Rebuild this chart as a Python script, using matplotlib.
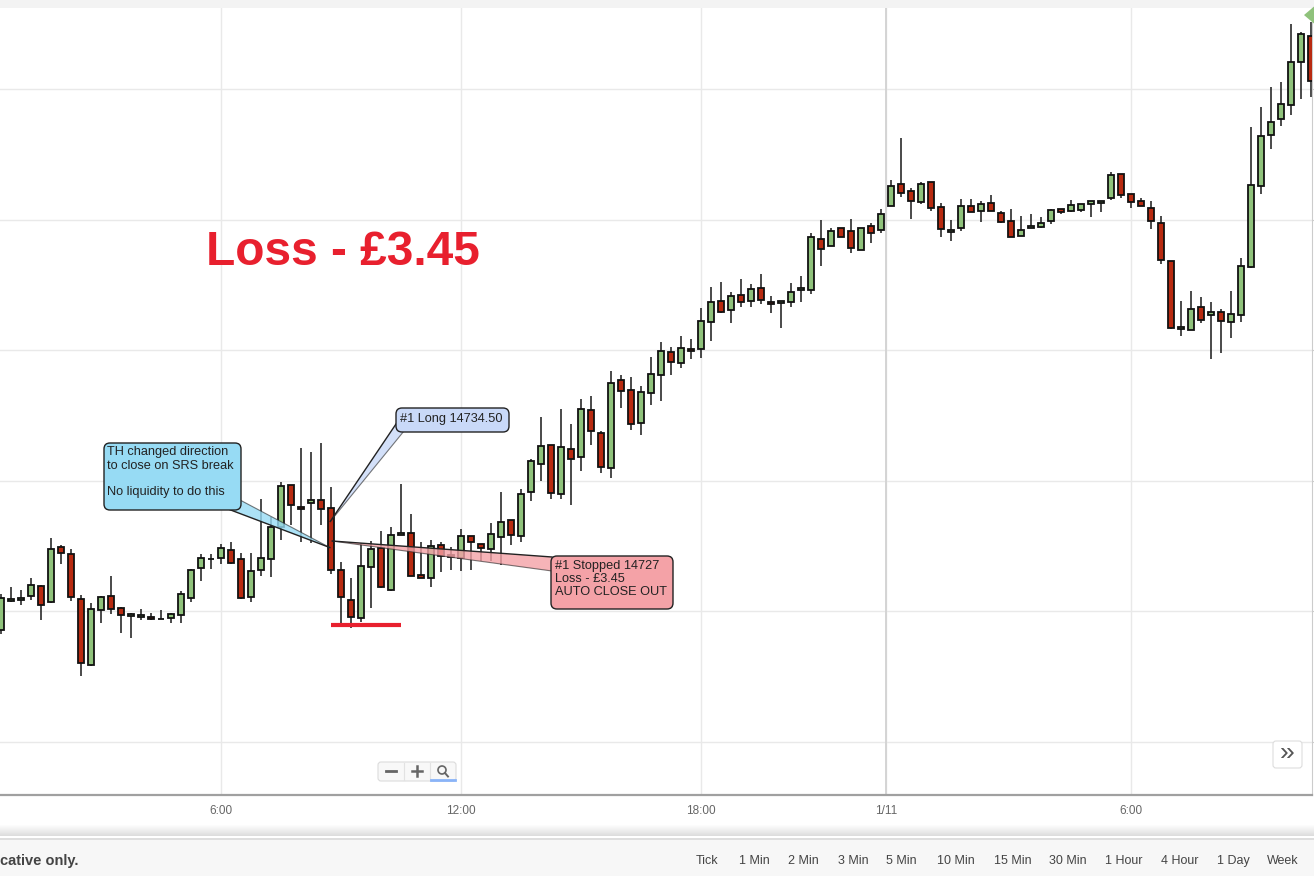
import numpy as np
import matplotlib
matplotlib.use("Agg")
import matplotlib.pyplot as plt
from matplotlib.patches import FancyBboxPatch, Polygon, Rectangle, Circle

plt.rcParams["font.family"] = ["Liberation Sans", "DejaVu Sans"]

# 15 minute candles
opens = [14692.9, 14704.0, 14704.4, 14705.9, 14709.8, 14703.6, 14724.7, 14722.0, 14704.8, 14679.5,
         14700.6, 14705.9, 14701.3, 14698.3, 14697.9, 14697.9, 14697.1, 14697.5, 14698.7, 14705.2,
         14716.7, 14720.1, 14720.5, 14723.6, 14720.1, 14705.6, 14715.9, 14720.1, 14732.4, 14748.5,
         14740.0, 14741.6, 14742.7, 14739.7, 14715.9, 14704.4, 14697.5, 14717.1, 14724.3, 14708.2,
         14729.3, 14730.1, 14714.0, 14712.8, 14725.5, 14721.7, 14720.5, 14728.9, 14725.9, 14724.0,
         14728.5, 14735.1, 14728.9, 14745.8, 14756.5, 14763.8, 14745.0, 14762.3, 14759.2, 14777.2,
         14768.4, 14755.0, 14788.7, 14784.9, 14772.2, 14783.7, 14790.6, 14799.4, 14795.2, 14800.6,
         14800.6, 14810.9, 14819.0, 14815.5, 14821.3, 14819.0, 14823.9, 14818.6, 14818.2, 14818.6,
         14823.2, 14823.2, 14842.7, 14840.0, 14846.9, 14845.8, 14838.5, 14847.7, 14846.2, 14855.4,
         14863.8, 14861.1, 14856.9, 14864.5, 14855.0, 14845.4, 14846.9, 14855.4, 14853.4, 14856.5,
         14852.7, 14849.6, 14843.9, 14846.9, 14847.3, 14849.6, 14854.2, 14853.4, 14853.8, 14856.1,
         14856.5, 14858.4, 14867.6, 14860.0, 14857.3, 14854.6, 14848.8, 14834.3, 14808.2, 14807.8,
         14816.7, 14813.6, 14814.7, 14810.9, 14813.6, 14832.0, 14863.0, 14882.6, 14888.7, 14894.0,
         14910.5, 14920.5]
highs = [14706.7, 14709.4, 14708.2, 14712.8, 14710.2, 14728.2, 14725.5, 14724.0, 14706.3, 14703.3,
         14705.9, 14713.6, 14701.7, 14699.4, 14701.0, 14699.4, 14700.6, 14699.4, 14707.9, 14716.3,
         14722.0, 14722.0, 14725.9, 14726.6, 14722.4, 14722.4, 14743.1, 14736.2, 14749.6, 14748.5,
         14762.6, 14761.1, 14764.6, 14747.7, 14719.0, 14712.8, 14726.2, 14727.0, 14730.8, 14732.4,
         14748.9, 14737.4, 14726.6, 14727.4, 14726.6, 14724.7, 14731.6, 14728.9, 14725.9, 14733.9,
         14745.8, 14735.1, 14746.9, 14758.4, 14774.5, 14763.8, 14777.6, 14771.8, 14781.4, 14782.6,
         14769.2, 14792.1, 14790.6, 14789.8, 14786.4, 14797.5, 14803.3, 14801.3, 14805.6, 14804.4,
         14816.3, 14824.3, 14826.2, 14822.4, 14827.4, 14825.5, 14829.3, 14820.9, 14819.0, 14825.9,
         14828.5, 14845.0, 14850.0, 14846.9, 14846.9, 14850.4, 14846.9, 14848.8, 14854.2, 14865.3,
         14881.4, 14862.2, 14864.5, 14864.5, 14856.5, 14850.0, 14858.0, 14858.0, 14857.3, 14859.6,
         14853.4, 14854.2, 14851.5, 14852.3, 14851.1, 14854.2, 14854.2, 14857.7, 14856.1, 14857.3,
         14857.3, 14868.4, 14867.6, 14860.0, 14858.4, 14857.3, 14851.5, 14834.3, 14819.0, 14822.8,
         14820.5, 14818.6, 14815.9, 14822.8, 14835.4, 14885.6, 14893.3, 14900.9, 14902.9, 14925.1,
         14922.0, 14925.8]
lows = [14691.4, 14703.6, 14702.5, 14704.4, 14696.8, 14703.3, 14718.2, 14704.0, 14675.3, 14679.1,
        14695.6, 14699.0, 14691.8, 14689.9, 14696.8, 14696.8, 14697.1, 14695.6, 14695.6, 14703.6,
        14711.7, 14716.3, 14718.2, 14718.2, 14704.8, 14703.6, 14713.6, 14713.2, 14727.4, 14733.1,
        14726.6, 14726.2, 14733.1, 14714.4, 14695.6, 14693.7, 14696.0, 14701.3, 14709.0, 14707.9,
        14729.3, 14713.6, 14712.8, 14709.4, 14715.1, 14715.9, 14715.5, 14715.9, 14719.4, 14719.4,
        14717.8, 14725.5, 14726.6, 14742.3, 14750.0, 14743.1, 14743.1, 14740.8, 14753.8, 14763.8,
        14753.1, 14751.1, 14778.0, 14769.5, 14767.6, 14779.1, 14780.6, 14790.6, 14793.3, 14796.7,
        14797.1, 14803.6, 14814.4, 14810.5, 14816.7, 14816.7, 14817.8, 14814.4, 14808.6, 14816.7,
        14818.6, 14821.6, 14832.4, 14840.0, 14843.5, 14837.3, 14838.5, 14841.2, 14845.0, 14855.4,
        14858.8, 14850.4, 14856.1, 14853.4, 14843.5, 14841.9, 14845.8, 14853.1, 14849.2, 14853.4,
        14848.8, 14843.5, 14843.9, 14846.9, 14846.9, 14848.5, 14852.3, 14853.1, 14853.1, 14851.1,
        14853.1, 14857.7, 14858.4, 14854.6, 14855.4, 14846.5, 14833.1, 14808.2, 14805.6, 14807.8,
        14810.5, 14796.7, 14799.0, 14804.8, 14810.9, 14831.6, 14860.0, 14877.2, 14886.0, 14890.2,
        14896.3, 14897.1]
closes = [14705.2, 14704.8, 14705.2, 14710.2, 14702.5, 14724.0, 14722.4, 14705.6, 14680.3, 14701.0,
          14705.6, 14701.0, 14698.7, 14699.0, 14698.7, 14697.1, 14697.1, 14699.0, 14706.7, 14715.9,
          14720.5, 14720.1, 14724.3, 14718.6, 14705.2, 14715.5, 14720.5, 14732.4, 14748.1, 14740.8,
          14739.3, 14742.7, 14739.3, 14715.9, 14705.6, 14697.9, 14717.4, 14724.0, 14709.4, 14729.3,
          14730.1, 14713.6, 14712.8, 14725.1, 14721.3, 14720.9, 14728.9, 14726.6, 14724.3, 14729.7,
          14734.3, 14729.3, 14745.0, 14757.7, 14763.4, 14745.4, 14763.0, 14758.4, 14777.6, 14769.2,
          14755.4, 14787.5, 14784.5, 14771.8, 14784.1, 14791.0, 14799.8, 14795.6, 14801.0, 14799.8,
          14811.3, 14818.6, 14814.7, 14820.9, 14818.6, 14823.6, 14819.3, 14817.8, 14819.0, 14822.4,
          14823.9, 14843.5, 14838.9, 14845.8, 14843.5, 14839.3, 14846.9, 14845.0, 14852.3, 14863.0,
          14860.3, 14857.3, 14863.8, 14854.6, 14846.5, 14846.2, 14855.4, 14853.1, 14856.1, 14853.4,
          14849.2, 14843.5, 14846.2, 14847.7, 14848.8, 14853.8, 14853.1, 14855.7, 14856.1, 14857.3,
          14857.3, 14867.2, 14859.6, 14856.9, 14855.4, 14849.6, 14834.7, 14808.6, 14809.0, 14815.9,
          14811.7, 14814.7, 14811.3, 14814.0, 14832.4, 14863.4, 14882.2, 14887.5, 14894.4, 14910.5,
          14921.2, 14903.2]

tick_pos = [22, 46, 70, 88.5, 113]
tick_labels = ["6:00", "12:00", "18:00", "1/11", "6:00"]
price_grid = [14650, 14700, 14750, 14800, 14850, 14900]
last_price = 14928.5

trade_bar = 33
entry_price = 14734.5
stop_price = 14727.0
note_price = 14724.5
low_mark_price = 14695.0
low_mark_span = (33, 40)

timeframes = ["Tick", "1 Min", "2 Min", "3 Min", "5 Min", "10 Min", "15 Min",
              "30 Min", "1 Hour", "4 Hour", "1 Day", "Week"]

GREEN = "#8fc27b"
RED = "#b82a10"
LOSS_RED = "#e8202e"

W, H = 1314, 876
fig = plt.figure(figsize=(W / 100, H / 100), dpi=100, facecolor="white")

# page chrome behind the chart
bg = fig.add_axes([0, 0, 1, 1], zorder=-1)
bg.set_xlim(0, W)
bg.set_ylim(H, 0)
bg.axis("off")
bg.add_patch(Rectangle((0, 0), W, 8, color="#f3f3f3", lw=0))
for k in range(12):
    bg.add_patch(Rectangle((0, 824 + k), W, 1, color="#000000", alpha=0.012 * k, lw=0))
bg.add_patch(Rectangle((0, 838), W, 2, color="#dedede", lw=0))
bg.add_patch(Rectangle((0, 840), W, 36, color="#f7f7f7", lw=0))

# price chart
ax = fig.add_axes([0, (H - 795) / H, 1312 / W, (795 - 8) / H])
ax.set_facecolor("white")

x = np.arange(len(opens))
o = np.array(opens)
c = np.array(closes)
up = c >= o
colors = np.where(up, GREEN, RED)

ax.vlines(x, lows, highs, color="#2b2b2b", lw=1.2, zorder=2)
ax.bar(x, np.abs(c - o), bottom=np.minimum(o, c), width=0.62,
       color=colors, edgecolor="#111111", linewidth=1.3, zorder=3)

ax.hlines(low_mark_price, *low_mark_span, color=LOSS_RED, lw=3, zorder=4)

ax.set_xlim(-0.13, 131.07)
ax.set_ylim(14629.7, 14931.2)
ax.set_xticks(tick_pos, tick_labels)
ax.set_yticks(price_grid)
ax.yaxis.tick_right()
ax.tick_params(axis="x", length=0, pad=7, labelsize=8.5, labelcolor="#666666")
ax.tick_params(axis="y", length=4, color="#cccccc", labelright=False)
ax.grid(color="#e9e9e9", lw=1, zorder=0)
ax.set_axisbelow(True)
ax.axvline(tick_pos[3], color="#d2d2d2", lw=1.3, zorder=1)
for s in ["left", "top"]:
    ax.spines[s].set_visible(False)
ax.spines["right"].set_color("#cccccc")
ax.spines["bottom"].set_color("#a0a0a0")
ax.spines["bottom"].set_linewidth(1.6)


def to_px(xv, yv):
    dx, dy = ax.transData.transform((xv, yv))
    return dx, H - dy


# overlay for callouts and widgets
fg = fig.add_axes([0, 0, 1, 1], zorder=10)
fg.set_xlim(0, W)
fg.set_ylim(H, 0)
fg.axis("off")

fg.text(343, 265, "Loss - £3.45", ha="center", va="baseline", fontsize=34.5,
        fontweight="bold", color=LOSS_RED)


def callout(x0, y0, w, h, fc, tri):
    fg.add_patch(Polygon(tri, closed=True, fc=fc, ec="none", alpha=0.8, zorder=3))
    fg.plot([tri[0][0], tri[2][0]], [tri[0][1], tri[2][1]], color="#222222", lw=1, zorder=4)
    fg.plot([tri[1][0], tri[2][0]], [tri[1][1], tri[2][1]], color="#222222", lw=0.8,
            alpha=0.6, zorder=4)
    fg.add_patch(FancyBboxPatch((x0, y0), w, h, boxstyle="round,pad=0,rounding_size=6",
                                fc=fc, ec="#222222", lw=1, zorder=5))


long_tip = to_px(trade_bar - 0.1, entry_price)
stop_tip = to_px(trade_bar + 0.1, stop_price)
note_tip = to_px(trade_bar - 0.15, note_price)

callout(104, 443, 137, 67, "#97dbf4", [(228, 509), (240, 500), note_tip])
callout(396, 408, 113, 24, "#c9d9f8", [(396, 424), (404, 431), long_tip])
callout(551, 556, 122, 53, "#f4a2a7", [(552, 557), (552, 571), stop_tip])

txt = dict(fontsize=9.2, color="#222222", va="center", ha="left", zorder=6)
fg.text(107, 452.5, "TH changed direction", **txt)
fg.text(107, 466, "to close on SRS break", **txt)
fg.text(107, 492, "No liquidity to do this", **txt)
fg.text(400, 419, "#1 Long 14734.50", **txt)
fg.text(555, 566, "#1 Stopped 14727", **txt)
fg.text(555, 579, "Loss - £3.45", **txt)
fg.text(555, 592, "AUTO CLOSE OUT", **txt)

# last price marker
_, ly = to_px(0, last_price)
fg.add_patch(Polygon([(1304, ly), (1314, ly - 8.5), (1324, ly), (1314, ly + 8.5)],
                     fc="#8fc27b", ec="none", zorder=6))

# zoom buttons
fg.add_patch(FancyBboxPatch((378, 762), 78, 19, boxstyle="round,pad=0,rounding_size=3",
                            fc="#f8f8f8", ec="#dcdcdc", lw=0.8))
fg.plot([404, 404], [763, 780], color="#e2e2e2", lw=0.8)
fg.plot([430, 430], [763, 780], color="#e2e2e2", lw=0.8)
fg.plot([386, 396], [771, 771], color="#666666", lw=2)
fg.plot([412, 422], [771, 771], color="#666666", lw=1.8)
fg.plot([417, 417], [766, 776], color="#666666", lw=1.8)
fg.add_patch(Circle((442, 770), 4, fc="none", ec="#666666", lw=1.2))
fg.plot([445, 448], [773, 776.5], color="#666666", lw=1.4)
fg.plot([431, 455], [779.5, 779.5], color="#8ab4f8", lw=2)

fg.add_patch(FancyBboxPatch((1273, 741), 29, 27, boxstyle="round,pad=0,rounding_size=3",
                            fc="white", ec="#dddddd", lw=0.8))
fg.text(1287.5, 753, "»", ha="center", va="center", fontsize=19, color="#555555")

# bottom bar
fg.text(0, 861, "cative only.", ha="left", va="center", fontsize=10.5, fontweight="bold",
        color="#444444")
tf_x = [707, 754, 803, 853, 901, 956, 1013, 1068, 1124, 1180, 1233, 1283]
for xx, lab in zip(tf_x, timeframes):
    fg.text(xx, 861, lab, ha="center", va="center", fontsize=9, color="#444444")

fig.savefig("out.png", dpi=100)
